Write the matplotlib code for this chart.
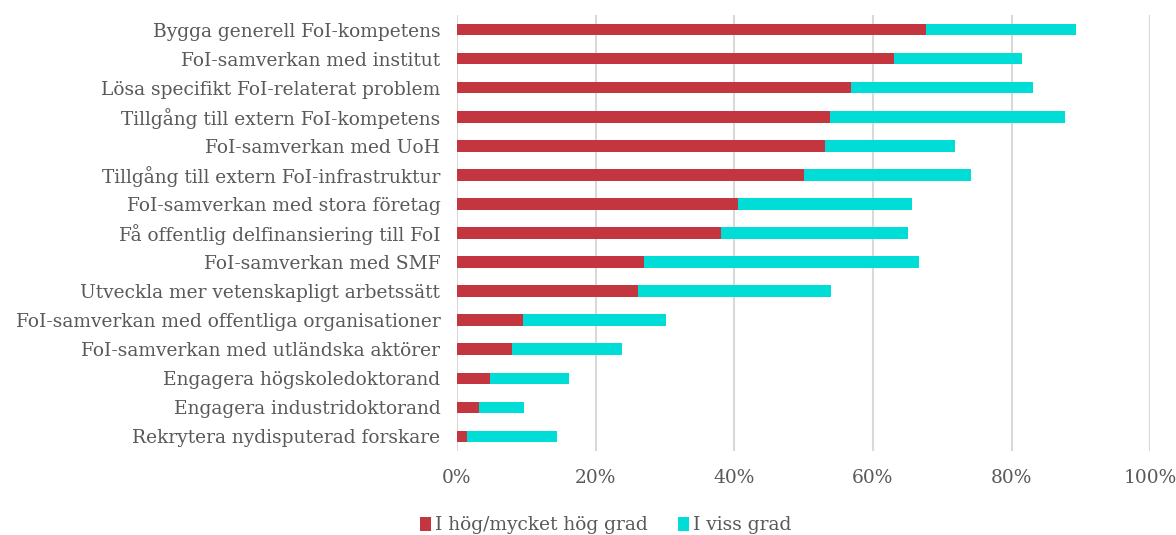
import matplotlib
matplotlib.use('Agg')
import matplotlib.pyplot as plt
import numpy as np

# Categories, top to bottom as drawn
categories = [
    "Bygga generell FoI-kompetens",
    "FoI-samverkan med institut",
    "Lösa specifikt FoI-relaterat problem",
    "Tillgång till extern FoI-kompetens",
    "FoI-samverkan med UoH",
    "Tillgång till extern FoI-infrastruktur",
    "FoI-samverkan med stora företag",
    "Få offentlig delfinansiering till FoI",
    "FoI-samverkan med SMF",
    "Utveckla mer vetenskapligt arbetssätt",
    "FoI-samverkan med offentliga organisationer",
    "FoI-samverkan med utländska aktörer",
    "Engagera högskoledoktorand",
    "Engagera industridoktorand",
    "Rekrytera nydisputerad forskare",
]

# Share (%) answering "I hög/mycket hög grad"
high = [67.7, 63.1, 56.8, 53.8, 53.1, 50.0, 40.6, 38.1, 27.0, 26.1,
        9.5, 7.9, 4.8, 3.2, 1.5]
# Share (%) answering "I viss grad"
some = [21.6, 18.4, 26.3, 33.9, 18.8, 24.2, 25.0, 27.0, 39.7, 27.8,
        20.6, 15.9, 11.3, 6.5, 13.0]

series_names = ["I hög/mycket hög grad", "I viss grad"]
xticks = [0, 20, 40, 60, 80, 100]

RED = "#C4363F"
CYAN = "#00DCD6"
TEXT = "#595959"
GRID = "#D9D9D9"
FS = 13.4

plt.rcParams['font.family'] = ['DejaVu Serif']

fig = plt.figure(figsize=(11.76, 5.35), dpi=100)
ax = fig.add_axes([0.3886, 0.157, 0.5894, 0.815])

y = np.arange(len(categories))
ax.barh(y, high, height=0.4, color=RED, label=series_names[0], zorder=3)
ax.barh(y, some, left=high, height=0.4, color=CYAN, label=series_names[1], zorder=3)

ax.set_ylim(len(categories) - 0.5, -0.5)
ax.set_xlim(0, 100)
ax.set_yticks(y)
ax.set_yticklabels(categories, fontsize=FS, color=TEXT)
ax.set_xticks(xticks)
ax.set_xticklabels([f"{v}%" for v in xticks], fontsize=FS, color=TEXT)
ax.tick_params(axis='both', length=0)
ax.tick_params(axis='x', pad=13)
ax.tick_params(axis='y', pad=12)

ax.grid(axis='x', color=GRID, linewidth=1.5, zorder=0)
for s in ax.spines.values():
    s.set_visible(False)

fig.legend(loc='lower center', bbox_to_anchor=(0.515, -0.03), ncol=2, frameon=False,
           fontsize=FS, labelcolor=TEXT, handlelength=0.6, handleheight=0.8,
           handletextpad=0.2, columnspacing=1.6)

fig.savefig("out.png", dpi=100)
